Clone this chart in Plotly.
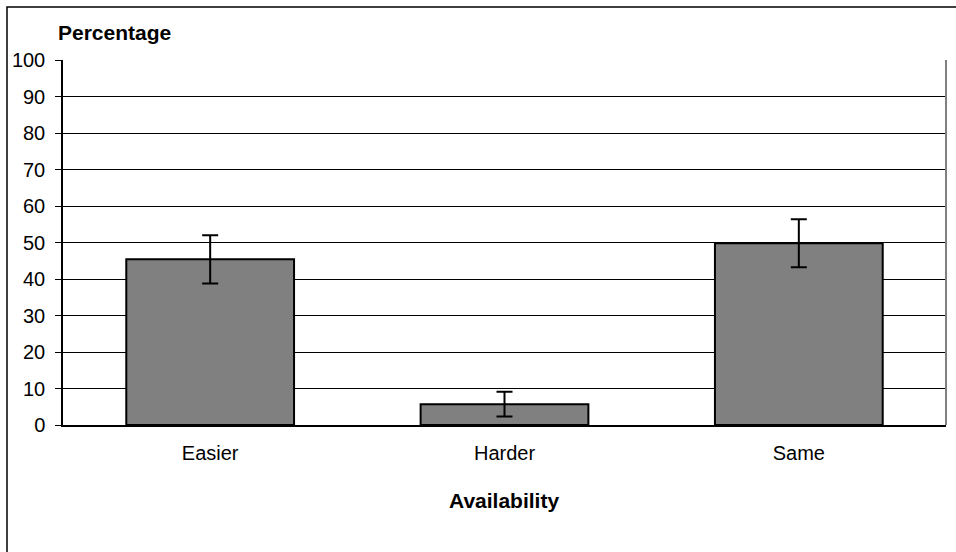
import plotly.graph_objects as go

categories = ["Easier", "Harder", "Same"]
values = [45.4, 5.7, 49.8]
errors = [6.6, 3.4, 6.6]
y_ticks = [0, 10, 20, 30, 40, 50, 60, 70, 80, 90, 100]

W, H = 956, 552
L, R, T, B = 63, 10, 60, 127
pw, ph = W - L - R, H - T - B

def px_x(x):
    return (x - L) / pw

def px_y(y):
    return 1 - (y - T) / ph

FONT = "Liberation Sans, Arial, sans-serif"

fig = go.Figure()
fig.add_trace(go.Bar(
    x=categories, y=values,
    width=0.57,
    marker=dict(color="#808080", line=dict(color="#000000", width=2)),
    error_y=dict(type="data", array=errors, visible=True,
                 color="#000000", thickness=2, width=8),
))

fig.update_layout(
    width=W, height=H,
    margin=dict(l=L, r=R, t=T, b=B, autoexpand=False),
    paper_bgcolor="white", plot_bgcolor="white",
    showlegend=False,
    bargap=0.43,
    font=dict(family=FONT, size=20, color="#000000"),
    xaxis=dict(showgrid=False, ticks="", showline=True, linecolor="#000000",
               linewidth=1.5, tickfont=dict(size=20), ticklabelstandoff=9,
               zeroline=False),
    yaxis=dict(range=[0, 100], tickvals=y_ticks, showgrid=True,
               gridcolor="#000000", gridwidth=1, showline=True,
               linecolor="#000000", linewidth=1.5, ticks="outside",
               ticklen=6, tickcolor="#000000", tickfont=dict(size=20),
               zeroline=False, ticklabelstandoff=6),
    shapes=[
        dict(type="rect", xref="paper", yref="paper",
             x0=px_x(7), x1=px_x(965), y0=px_y(575), y1=px_y(7),
             line=dict(color="#000000", width=1.5), layer="below"),
        dict(type="line", xref="paper", yref="paper",
             x0=1, x1=1, y0=0, y1=1,
             line=dict(color="#808080", width=2)),
    ],
    annotations=[
        dict(text="<b>Percentage</b>", xref="paper", yref="paper",
             x=px_x(56), y=px_y(33), xanchor="left", yanchor="middle",
             showarrow=False, font=dict(size=21)),
        dict(text="<b>Availability</b>", xref="paper", yref="paper",
             x=px_x(504), y=px_y(500), xanchor="center", yanchor="middle",
             showarrow=False, font=dict(size=21)),
    ],
)

fig.write_html("out.html", config={"displayModeBar": False},
               post_script="document.body.style.margin='0';document.body.style.padding='0';")
